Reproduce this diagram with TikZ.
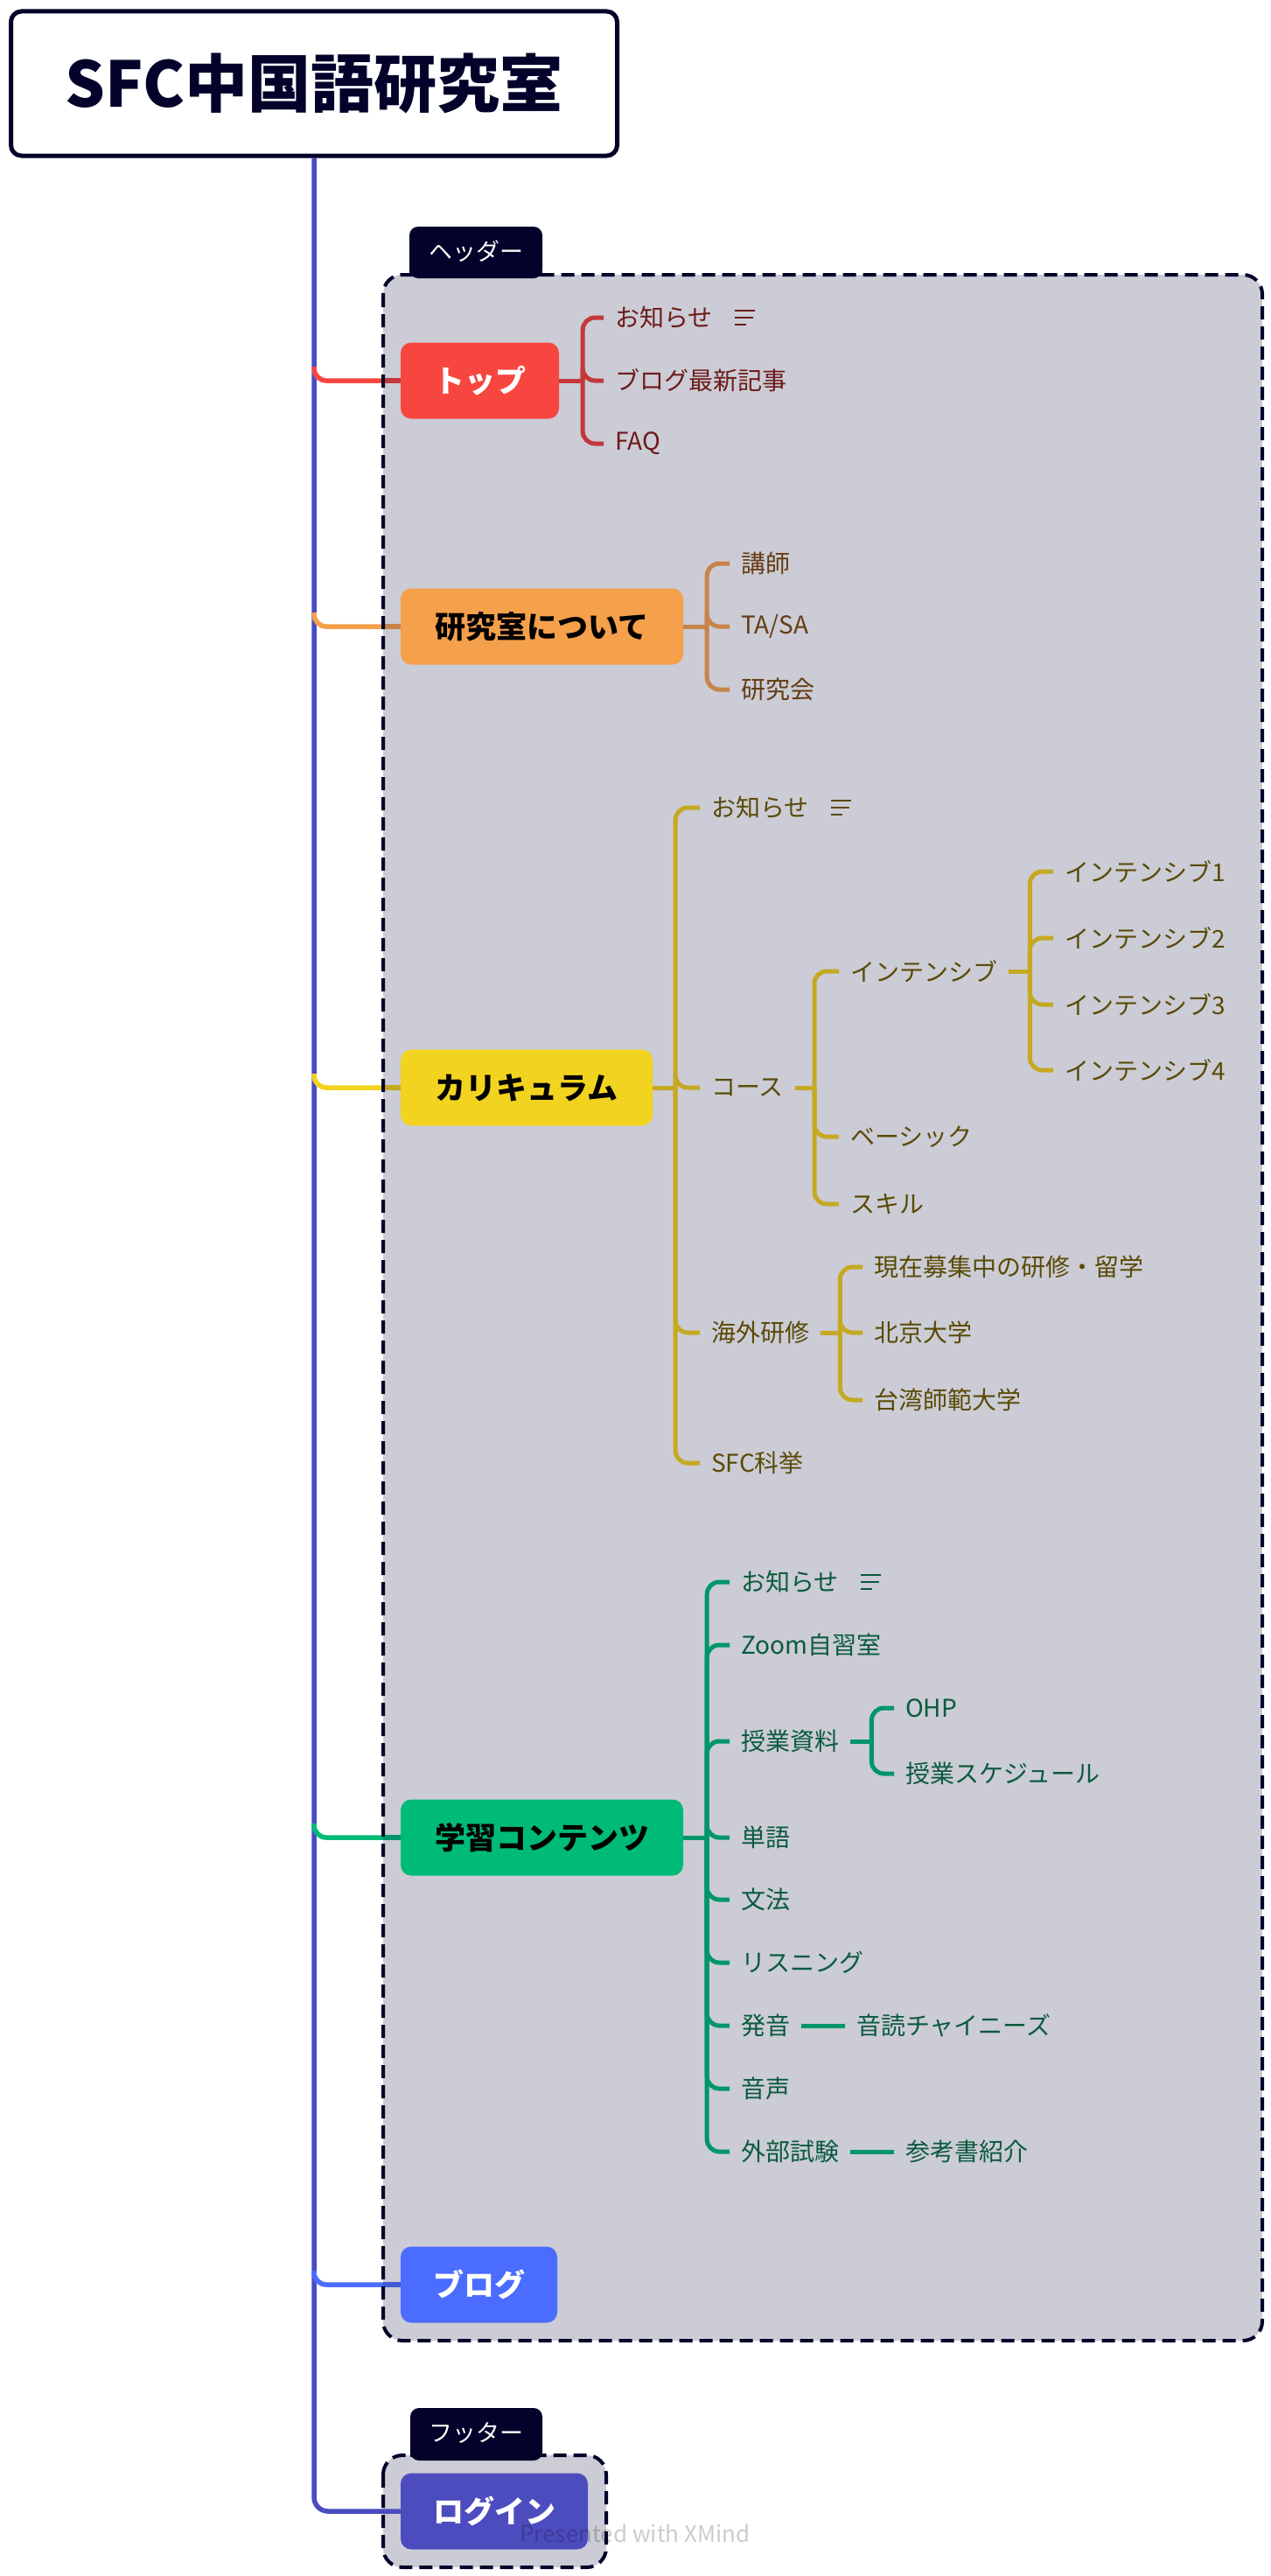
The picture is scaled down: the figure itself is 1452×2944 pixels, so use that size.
\documentclass[tikz,border=0pt]{standalone}
\usepackage{fontspec}
\setmainfont{Noto Sans CJK JP}
\definecolor{navy}{HTML}{02022A}
\definecolor{grp}{HTML}{CBCCD5}
\definecolor{spinec}{HTML}{4B4BC2}
\definecolor{redb}{HTML}{F7463F}
\definecolor{redd}{HTML}{C3383A}
\definecolor{redt}{HTML}{6E1A1A}
\definecolor{orab}{HTML}{F5A04B}
\definecolor{orad}{HTML}{C8834A}
\definecolor{orat}{HTML}{663C14}
\definecolor{yelb}{HTML}{F2D31F}
\definecolor{yeld}{HTML}{C6A922}
\definecolor{yelt}{HTML}{5A4A06}
\definecolor{grnb}{HTML}{00BB77}
\definecolor{grnd}{HTML}{00966A}
\definecolor{grnt}{HTML}{0A5A3E}
\definecolor{blub}{HTML}{4A6CFF}
\definecolor{blud}{HTML}{3F5BD6}
\definecolor{logc}{HTML}{4C4CBF}
\pgfdeclarelayer{bgA}
\pgfdeclarelayer{bgB}
\pgfdeclarelayer{bgC}
\pgfsetlayers{bgA,bgB,bgC,main}
\begin{document}
\begin{tikzpicture}[x=1pt,y=-1pt,
  rootbox/.style={draw=navy,line width=5pt,rounded corners=12pt,fill=white,minimum width=693pt,minimum height=165pt,inner sep=0pt,text=navy,font=\fontsize{72}{80}\selectfont\bfseries},
  mainbox/.style={rounded corners=12pt,minimum height=87pt,inner sep=0pt,font=\fontsize{35}{40}\selectfont\bfseries},
  kid/.style={anchor=west,inner xsep=13pt,inner ysep=0pt,font=\fontsize{28}{30}\selectfont},
  conn/.style={line width=5.5pt,rounded corners=14pt},
  brk/.style={line width=5pt,rounded corners=14pt},
  dashline/.style={draw=navy,line width=4pt,dash pattern=on 15pt off 8pt,rounded corners=22pt},
  notes/.style={line width=2.6pt},
  tabtext/.style={text=white,font=\fontsize{27}{30}\selectfont,inner sep=0pt}
]
\useasboundingbox (0,0) rectangle (1452,2944);
\coordinate (hdrNW) at (438,314);
\coordinate (hdrSE) at (1443,2675);
\coordinate (ftrNW) at (438,2806);
\coordinate (ftrSE) at (693,2934);

% root and main boxes
\node[rootbox] (root) at (359,95.5) {SFC中国語研究室};
\node[mainbox,fill=redb,text=white,minimum width=181pt] (top) at (548.5,435) {トップ};
\node[mainbox,fill=orab,text=black,minimum width=323pt] (lab) at (619.5,716) {研究室について};
\node[mainbox,fill=yelb,text=black,minimum width=288pt] (cur) at (602,1243) {カリキュラム};
\node[mainbox,fill=grnb,text=black,minimum width=323pt] (study) at (619.5,2100) {学習コンテンツ};
\node[mainbox,fill=blub,text=white,minimum width=179pt] (blog) at (547.5,2611) {ブログ};
\node[mainbox,fill=logc,text=white,minimum width=214pt] (login) at (565,2870) {ログイン};

\begin{pgfonlayer}{bgA}
  \fill[white] (0,0) rectangle (1452,2944);
  \fill[grp,rounded corners=22pt] (hdrNW) rectangle (hdrSE);
  \fill[grp,rounded corners=22pt] (ftrNW) rectangle (ftrSE);
\end{pgfonlayer}

\begin{pgfonlayer}{bgB}
  \draw[spinec,line width=5.5pt,rounded corners=16pt] (root.south) |- (login.west);
  \path (top.west -| root.south) coordinate (jTop);
  \path (lab.west -| root.south) coordinate (jLab);
  \path (cur.west -| root.south) coordinate (jCur);
  \path (study.west -| root.south) coordinate (jStudy);
  \path (blog.west -| root.south) coordinate (jBlog);
  \draw[conn,redb] ([yshift=16pt]jTop) |- (top.west);
  \draw[conn,orab] ([yshift=16pt]jLab) |- (lab.west);
  \draw[conn,yelb] ([yshift=16pt]jCur) |- (cur.west);
  \draw[conn,grnb] ([yshift=16pt]jStudy) |- (study.west);
  \draw[conn,blub] ([yshift=16pt]jBlog) |- (blog.west);
  \draw[line width=5.5pt,redd] (top.west -| hdrNW) -- (top.west);
  \draw[line width=5.5pt,orad] (lab.west -| hdrNW) -- (lab.west);
  \draw[line width=5.5pt,yeld] (cur.west -| hdrNW) -- (cur.west);
  \draw[line width=5.5pt,grnd] (study.west -| hdrNW) -- (study.west);
  \draw[line width=5.5pt,blud] (blog.west -| hdrNW) -- (blog.west);
\end{pgfonlayer}

\begin{pgfonlayer}{bgC}
  \draw[dashline] (hdrNW) rectangle (hdrSE);
  \draw[dashline] (ftrNW) rectangle (ftrSE);
  \fill[navy,rounded corners=10pt] (468,259) rectangle (620,318);
  \fill[navy] (468,295) rectangle (620,316);
  \fill[navy,rounded corners=10pt] (469,2752) rectangle (620,2812);
  \fill[navy] (469,2790) rectangle (620,2808);
\end{pgfonlayer}
\node[tabtext] (hdrtab) at (544,287) {ヘッダー};
\node[tabtext] (ftrtab) at (544.5,2780) {フッター};

% ---- トップ
\draw[brk,redd] (top.east) -- ++(27,0) coordinate (topV);
\node[kid,text=redt] (top1) at (690,363) {お知らせ};
\node[kid,text=redt] (top2) at (690,435) {ブログ最新記事};
\node[kid,text=redt] (top3) at (690,507) {FAQ};
\foreach \k in {top1,top2,top3} \draw[brk,redd] (topV) |- (\k.west);
\draw[notes,redt] ([shift={(12,-8)}]top1.east) -- ++(23,0);
\draw[notes,redt] ([shift={(12,0)}]top1.east) -- ++(21,0);
\draw[notes,redt] ([shift={(12,8)}]top1.east) -- ++(13,0);

% ---- 研究室について
\draw[brk,orad] (lab.east) -- ++(27,0) coordinate (labV);
\node[kid,text=orat] (lab1) at (834,644) {講師};
\node[kid,text=orat] (lab2) at (834,716) {TA/SA};
\node[kid,text=orat] (lab3) at (834,788) {研究会};
\foreach \k in {lab1,lab2,lab3} \draw[brk,orad] (labV) |- (\k.west);

% ---- カリキュラム
\draw[brk,yeld] (cur.east) -- ++(26,0) coordinate (curV);
\node[kid,text=yelt] (cur1) at (800,923) {お知らせ};
\node[kid,text=yelt] (course) at (800,1243) {コース};
\node[kid,text=yelt] (abroad) at (800,1523) {海外研修};
\node[kid,text=yelt] (kakyo) at (800,1672) {SFC科挙};
\foreach \k in {cur1,course,abroad,kakyo} \draw[brk,yeld] (curV) |- (\k.west);
\draw[notes,yelt] ([shift={(12,-8)}]cur1.east) -- ++(23,0);
\draw[notes,yelt] ([shift={(12,0)}]cur1.east) -- ++(21,0);
\draw[notes,yelt] ([shift={(12,8)}]cur1.east) -- ++(13,0);

\draw[brk,yeld] (course.east) -- ++(22,0) coordinate (courseV);
\node[kid,text=yelt] (int) at (959,1110) {インテンシブ};
\node[kid,text=yelt] (basic) at (959,1299) {ベーシック};
\node[kid,text=yelt] (skill) at (959,1376) {スキル};
\foreach \k in {int,basic,skill} \draw[brk,yeld] (courseV) |- (\k.west);

\draw[brk,yeld] (int.east) -- ++(24,0) coordinate (intV);
\node[kid,text=yelt] (int1) at (1204,996) {インテンシブ1};
\node[kid,text=yelt] (int2) at (1204,1072) {インテンシブ2};
\node[kid,text=yelt] (int3) at (1204,1148) {インテンシブ3};
\node[kid,text=yelt] (int4) at (1204,1223) {インテンシブ4};
\foreach \k in {int1,int2,int3,int4} \draw[brk,yeld] (intV) |- (\k.west);

\draw[brk,yeld] (abroad.east) -- ++(22,0) coordinate (abroadV);
\node[kid,text=yelt] (ab1) at (986,1448) {現在募集中の研修・留学};
\node[kid,text=yelt] (ab2) at (986,1523) {北京大学};
\node[kid,text=yelt] (ab3) at (986,1600) {台湾師範大学};
\foreach \k in {ab1,ab2,ab3} \draw[brk,yeld] (abroadV) |- (\k.west);

% ---- 学習コンテンツ
\draw[brk,grnd] (study.east) -- ++(27,0) coordinate (studyV);
\node[kid,text=grnt] (s1) at (834,1808) {お知らせ};
\node[kid,text=grnt] (s2) at (834,1880) {Zoom自習室};
\node[kid,text=grnt] (s3) at (834,1990) {授業資料};
\node[kid,text=grnt] (s4) at (834,2100) {単語};
\node[kid,text=grnt] (s5) at (834,2171) {文法};
\node[kid,text=grnt] (s6) at (834,2243) {リスニング};
\node[kid,text=grnt] (s7) at (834,2315) {発音};
\node[kid,text=grnt] (s8) at (834,2387) {音声};
\node[kid,text=grnt] (s9) at (834,2459) {外部試験};
\foreach \k in {s1,s2,s3,s4,s5,s6,s7,s8,s9} \draw[brk,grnd] (studyV) |- (\k.west);
\draw[notes,grnt] ([shift={(12,-8)}]s1.east) -- ++(23,0);
\draw[notes,grnt] ([shift={(12,0)}]s1.east) -- ++(21,0);
\draw[notes,grnt] ([shift={(12,8)}]s1.east) -- ++(13,0);

\draw[brk,grnd] (s3.east) -- ++(24,0) coordinate (s3V);
\node[kid,text=grnt] (ohp) at (1022,1952) {OHP};
\node[kid,text=grnt] (sched) at (1022,2027) {授業スケジュール};
\foreach \k in {ohp,sched} \draw[brk,grnd] (s3V) |- (\k.west);

\node[kid,text=grnt] (ondoku) at (966,2315) {音読チャイニーズ};
\draw[brk,grnd] (s7.east) -- (ondoku.west);
\node[kid,text=grnt] (sanko) at (1022,2459) {参考書紹介};
\draw[brk,grnd] (s9.east) -- (sanko.west);

% watermark
\node[anchor=west,inner sep=0pt,text=black,text opacity=0.2,font=\fontsize{26}{28}\selectfont] (wm) at (594,2895) {Presented with XMind};
\end{tikzpicture}
\end{document}
